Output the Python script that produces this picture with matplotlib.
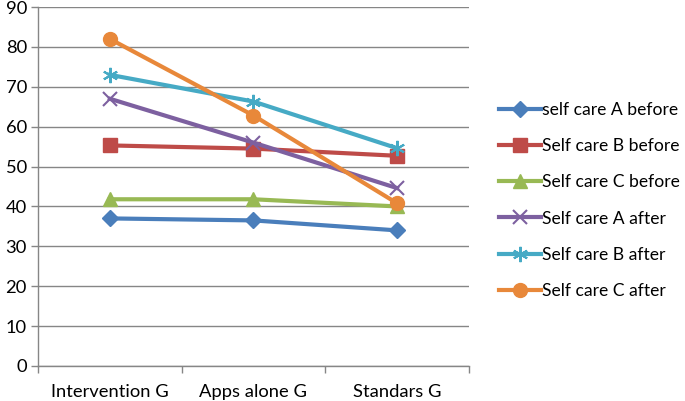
import matplotlib
matplotlib.use("Agg")
import matplotlib.pyplot as plt
import numpy as np

categories = ["Intervention G", "Apps alone G", "Standars G"]
series_names = ["self care A before", "Self care B before", "Self care C before",
                "Self care A after", "Self care B after", "Self care C after"]
a_before = [37.0, 36.5, 34.0]
b_before = [55.3, 54.5, 52.7]
c_before = [41.8, 41.8, 40.0]
a_after = [67.0, 56.0, 44.6]
b_after = [73.0, 66.3, 54.6]
c_after = [82.0, 62.8, 40.8]
yticks = list(range(0, 91, 10))

colors = ["#4A7EBB", "#BE4B48", "#98B954", "#7D60A0", "#46AAC5", "#E8883A"]
markers = ["D", "s", "^", "x", "*", "o"]
msizes = [8, 10, 10, 10, 11, 10]

plt.rcParams['font.family'] = ['Lato', 'DejaVu Sans']
fig = plt.figure(figsize=(6.85, 4.01), dpi=100)
ax = fig.add_axes([0.0555, 0.0873, 0.629, 0.8952])

x = np.arange(len(categories))
data = [a_before, b_before, c_before, a_after, b_after, c_after]
handles = []
for vals, name, c, m, ms in zip(data, series_names, colors, markers, msizes):
    if m == "*":
        h, = ax.plot(x, vals, color=c, lw=3, marker=(6, 2, 0), ms=ms, mew=1.5,
                     mec=c, label=name, zorder=3)
    elif m == "x":
        h, = ax.plot(x, vals, color=c, lw=3, marker=m, ms=ms, mew=1.5,
                     mec=c, label=name, zorder=3)
    else:
        h, = ax.plot(x, vals, color=c, lw=3, marker=m, ms=ms, mec=c, mfc=c,
                     label=name, zorder=3)
    handles.append(h)

ax.set_xlim(-0.5, 2.5)
ax.set_ylim(0, 90)
ax.set_yticks(yticks)
ax.set_xticks(x)
ax.set_xticklabels(categories)
ax.set_xticks([-0.5, 0.5, 1.5, 2.5], minor=True)
ax.tick_params(axis='x', which='major', length=0, pad=13, labelsize=13.2)
ax.tick_params(axis='x', which='minor', length=5, color="#868686", width=1)
ax.tick_params(axis='y', length=5, color="#868686", width=1, labelsize=13.2, pad=3)
ax.yaxis.grid(True, color="#868686", lw=1)
ax.set_axisbelow(True)
for s in ["top", "right"]:
    ax.spines[s].set_visible(False)
for s in ["left", "bottom"]:
    ax.spines[s].set_color("#868686")
    ax.spines[s].set_linewidth(1)

fig.legend(handles=handles, labels=series_names, loc="center left",
           bbox_to_anchor=(0.705, 0.5), frameon=False, fontsize=12.6,
           handlelength=2.4, handletextpad=0.1, labelspacing=1.15)

fig.savefig("out.png", dpi=100)
